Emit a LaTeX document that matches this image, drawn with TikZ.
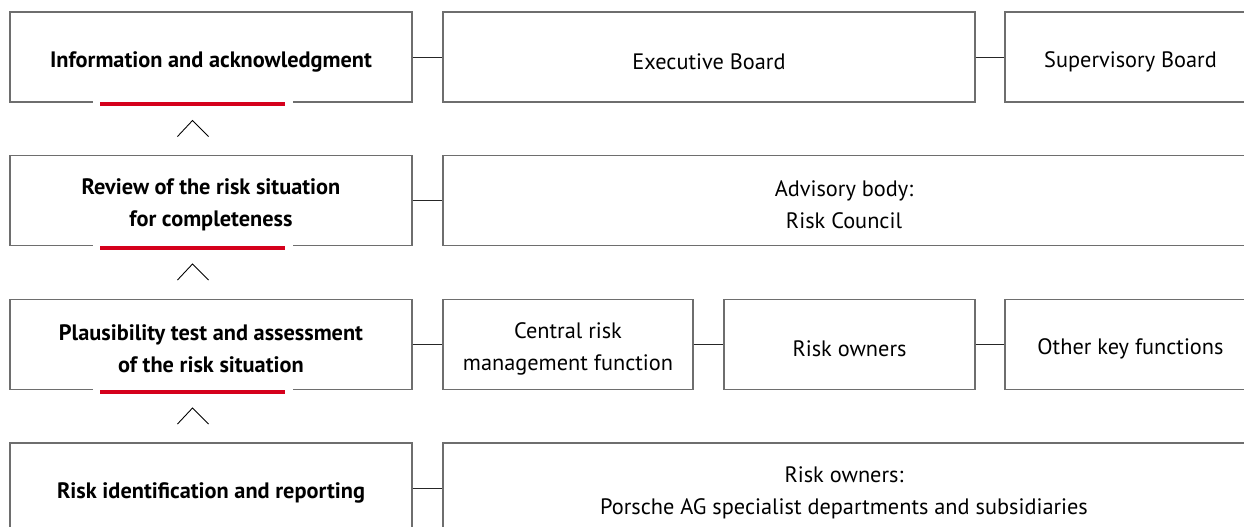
\documentclass[tikz,border=0pt]{standalone}
\usepackage{fontspec}
\setmainfont{PT Sans}
\usetikzlibrary{calc}
\definecolor{porschered}{HTML}{D5001C}
\definecolor{boxgray}{HTML}{6E6E6E}
\tikzset{
  box/.style={draw=boxgray, line width=0.6pt, minimum height=1.8cm, inner sep=0pt,
    align=center, text height=0.5cm, font=\fontsize{12.7}{18.2}\selectfont},
  twoline/.style={text height=1.13cm},
  leftbox/.style={box, minimum width=8.04cm, font=\fontsize{12.7}{18.2}\selectfont\bfseries},
  link/.style={line width=0.5pt, draw=black!85},
  redbar/.style={porschered, line width=2.3pt},
  chevron/.style={line width=0.5pt}
}

\begin{document}
\begin{tikzpicture}
	%%%%% START %%%%%
	\useasboundingbox (0,0) rectangle (24.88,-10.54);
	
	\node[leftbox] (info) at (4.22,-1.14) {Information and acknowledgment};
	\node[leftbox, twoline] (review) at (4.22,-4.01) {Review of the risk situation\\for completeness};
	\node[leftbox, twoline] (plaus) at (4.22,-6.89) {Plausibility test and assessment\\of the risk situation};
	\node[leftbox] (ident) at (4.22,-9.76) {Risk identification and reporting};
	
	\node[box, minimum width=10.64cm] (exec) at (14.18,-1.14) {Executive Board};
	\node[box, minimum width=5.02cm] (superv) at (22.61,-1.14) {Supervisory Board};
	
	\node[box, twoline, minimum width=16.04cm] (council) at (16.88,-4.01) {Advisory body:\\Risk Council};
	
	\node[box, twoline, minimum width=5.0cm] (central) at (11.36,-6.89) {Central risk\\management function};
	\node[box, minimum width=5.02cm] (owners) at (16.99,-6.89) {Risk owners};
	\node[box, minimum width=5.02cm] (keyfn) at (22.61,-6.89) {Other key functions};
	
	\node[box, twoline, minimum width=16.04cm] (depts) at (16.88,-9.76) {Risk owners:\\Porsche AG specialist departments and subsidiaries};
	
	\draw[link] (info.east) -- (exec.west);
	\draw[link] (exec.east) -- (superv.west);
	\draw[link] (review.east) -- (council.west);
	\draw[link] (plaus.east) -- (central.west);
	\draw[link] (central.east) -- (owners.west);
	\draw[link] (owners.east) -- (keyfn.west);
	\draw[link] (ident.east) -- (depts.west);
	
	\foreach \n in {info,review,plaus}{
		\draw[white, line width=2pt] ($(\n.south west)+(1.68,0)$) -- ($(\n.south west)+(5.68,0)$);
		\draw[redbar] ($(\n.south west)+(1.82,-0.03)$) -- ($(\n.south west)+(5.52,-0.03)$);
		\draw[chevron] ($(\n.south west)+(3.36,-0.68)$) -- ($(\n.south west)+(3.66,-0.36)$) -- ($(\n.south west)+(3.98,-0.68)$);
	}
	
	%%%%% END %%%%%
\end{tikzpicture}
\end{document}
